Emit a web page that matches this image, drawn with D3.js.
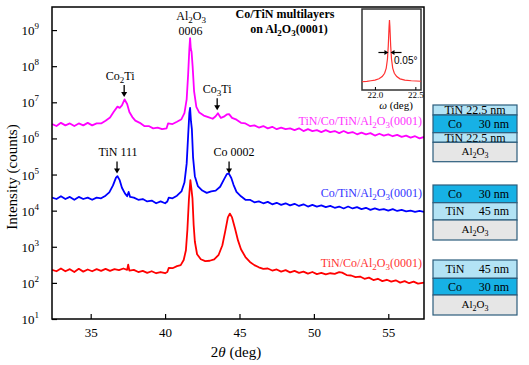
<!DOCTYPE html>
<html>
<head>
<meta charset="utf-8">
<script src="https://cdn.jsdelivr.net/npm/d3@7"></script>
<style>
  body { margin: 0; background: #fff; }
  svg { display: block; font-family: "Liberation Serif", "Times New Roman", serif; }
</style>
</head>
<body>
<svg id="chart" width="529" height="365"></svg>
<script>
// ---- data: [2theta (deg), intensity (counts)] ----
var tiCoTiData = [
  [32.4,2.5e6],[32.7,2.2e6],[33.0,2.7e6],[33.3,2.3e6],[33.6,2.6e6],[33.9,2.2e6],[34.2,2.6e6],[34.5,2.3e6],
  [34.8,2.7e6],[35.1,2.3e6],[35.4,2.6e6],[35.7,2.6e6],[36.0,3.1e6],[36.3,3.8e6],[36.55,5.5e6],[36.8,7.6e6],
  [36.95,7.0e6],[37.1,8.2e6],[37.28,1.2e7],[37.45,9.0e6],[37.6,5.4e6],[37.8,3.9e6],[38.0,3.1e6],[38.3,2.7e6],
  [38.6,2.2e6],[38.9,2.2e6],[39.2,1.9e6],[39.5,2.0e6],[39.8,1.8e6],[40.1,1.9e6],[40.2,2.6e6],[40.5,2.5e6],
  [40.8,2.9e6],[41.1,3.4e6],[41.3,5.0e6],[41.45,1.2e7],[41.55,6e7],[41.63,3e8],[41.68,6e8],[41.73,3e8],
  [41.78,2.5e8],[41.85,1e8],[41.95,2e7],[42.1,7.5e6],[42.3,5.2e6],[42.6,4.3e6],[42.9,3.9e6],[43.2,3.5e6],
  [43.4,4.1e6],[43.55,5.0e6],[43.75,3.7e6],[43.95,4.0e6],[44.15,4.6e6],[44.3,4.7e6],[44.5,3.7e6],[44.8,3.3e6],
  [45.1,2.7e6],[45.4,2.6e6],[45.7,2.2e6],[46.0,2.3e6],[46.3,2.0e6],[46.6,2.2e6],[46.9,1.9e6],[47.2,2.1e6],
  [47.5,1.8e6],[47.8,2.0e6],[48.1,1.8e6],[48.4,1.9e6],[48.7,1.7e6],[49.0,1.9e6],[49.3,1.6e6],[49.6,1.8e6],
  [49.9,1.6e6],[50.2,1.7e6],[50.5,1.5e6],[50.8,1.7e6],[51.1,1.5e6],[51.4,1.6e6],[51.7,1.4e6],[52.0,1.6e6],
  [52.3,1.4e6],[52.6,1.5e6],[52.9,1.3e6],[53.2,1.45e6],[53.5,1.3e6],[53.8,1.4e6],[54.1,1.2e6],[54.4,1.35e6],
  [54.7,1.2e6],[55.0,1.3e6],[55.3,1.15e6],[55.6,1.25e6],[55.9,1.1e6],[56.2,1.2e6],[56.5,1.05e6],[56.8,1.15e6],
  [57.1,1.0e6],[57.4,1.1e6]
];

var coTiData = [
  [32.4,2.3e4],[32.7,2.1e4],[33.0,2.5e4],[33.3,2.1e4],[33.6,2.4e4],[33.9,2.0e4],[34.2,2.4e4],[34.5,2.1e4],
  [34.8,2.3e4],[35.1,2.0e4],[35.4,2.3e4],[35.7,2.2e4],[36.0,2.6e4],[36.25,3.2e4],[36.5,5.0e4],[36.7,8.2e4],
  [36.8,9.0e4],[36.95,7.0e4],[37.1,4.3e4],[37.3,3.0e4],[37.45,2.5e4],[37.55,3.3e4],[37.65,2.4e4],[37.9,2.3e4],
  [38.2,2.0e4],[38.5,2.1e4],[38.8,1.8e4],[39.1,1.9e4],[39.4,1.6e4],[39.7,1.8e4],[40.0,1.6e4],[40.15,1.8e4],
  [40.25,2.3e4],[40.5,2.2e4],[40.8,2.6e4],[41.1,3.4e4],[41.3,6e4],[41.45,2e5],[41.55,1.2e6],[41.63,5e6],
  [41.68,7e6],[41.74,3e6],[41.8,1.8e6],[41.88,3e5],[42.0,9e4],[42.2,4.8e4],[42.5,3.6e4],[42.8,3.1e4],
  [43.1,3.4e4],[43.4,3.6e4],[43.7,4.6e4],[43.95,7.2e4],[44.15,1.03e5],[44.28,1.08e5],[44.45,8.0e4],[44.6,5.2e4],
  [44.8,3.3e4],[45.1,2.5e4],[45.4,2.0e4],[45.7,2.0e4],[46.0,1.7e4],[46.3,1.8e4],[46.6,1.6e4],[46.9,1.75e4],
  [47.2,1.5e4],[47.5,1.65e4],[47.8,1.45e4],[48.1,1.6e4],[48.4,1.4e4],[48.7,1.55e4],[49.0,1.35e4],[49.3,1.5e4],
  [49.6,1.3e4],[49.9,1.45e4],[50.2,1.3e4],[50.5,1.4e4],[50.8,1.25e4],[51.1,1.35e4],[51.4,1.2e4],[51.7,1.3e4],
  [52.0,1.15e4],[52.3,1.3e4],[52.6,1.15e4],[52.9,1.25e4],[53.2,1.1e4],[53.5,1.2e4],[53.8,1.05e4],[54.1,1.15e4],
  [54.4,1.05e4],[54.7,1.1e4],[55.0,1.0e4],[55.3,1.1e4],[55.6,9.8e3],[55.9,1.05e4],[56.2,9.5e3],[56.5,1.0e4],
  [56.8,9.2e3],[57.1,9.8e3],[57.4,9.3e3]
];

var tiCoData = [
  [32.4,230],[32.7,210],[33.0,250],[33.3,210],[33.6,240],[33.9,200],[34.2,245],[34.5,205],[34.8,235],
  [35.1,210],[35.4,240],[35.7,215],[36.0,245],[36.3,215],[36.6,240],[36.9,225],[37.2,250],[37.45,230],
  [37.52,320],[37.6,220],[37.9,230],[38.2,200],[38.5,215],[38.8,190],[39.1,210],[39.4,185],[39.7,200],
  [40.0,185],[40.15,200],[40.25,260],[40.5,255],[40.8,290],[41.05,310],[41.25,430],[41.4,800],[41.5,3e3],
  [41.6,2e4],[41.7,7e4],[41.77,4e4],[41.84,2.2e4],[41.92,4e3],[42.0,1.4e3],[42.15,620],[42.4,450],[42.7,400],
  [43.0,410],[43.3,450],[43.6,600],[43.85,1.1e3],[44.05,2.8e3],[44.22,6.5e3],[44.35,8.3e3],[44.5,6.5e3],
  [44.7,3.2e3],[44.9,1.5e3],[45.1,850],[45.4,520],[45.7,380],[46.0,310],[46.3,270],[46.6,245],[46.9,250],
  [47.2,220],[47.5,235],[47.8,205],[48.1,225],[48.4,195],[48.7,215],[49.0,190],[49.3,205],[49.6,180],
  [49.9,200],[50.2,175],[50.5,190],[50.8,172],[51.1,185],[51.4,178],[51.7,198],[51.9,192],[52.2,165],
  [52.5,160],[52.8,145],[53.1,150],[53.4,130],[53.7,140],[54.0,120],[54.3,130],[54.6,112],[54.9,122],
  [55.2,108],[55.5,118],[55.8,102],[56.1,112],[56.4,98],[56.7,108],[57.0,95],[57.4,102]
];

// inset: omega rocking curve [omega (deg), normalised intensity]
var rockingData = [
  [21.84,0.05],[21.9,0.055],[21.95,0.065],[22.0,0.075],[22.05,0.095],[22.09,0.13],[22.12,0.18],[22.14,0.26],
  [22.155,0.4],[22.165,0.6],[22.175,0.9],[22.18,1.0],[22.185,0.9],[22.195,0.6],[22.205,0.4],[22.22,0.26],
  [22.24,0.18],[22.27,0.13],[22.31,0.095],[22.37,0.075],[22.45,0.065],[22.57,0.058]
];

var xTicks = [35, 40, 45, 50, 55];
var yExponents = [1, 2, 3, 4, 5, 6, 7, 8, 9];
var insetTicks = [22.0, 22.5];

// peak labels: text, 2theta of arrow, intensity at arrow tip
var peakNames = ["Co_2Ti", "Co_3Ti", "TiN 111", "Co 0002"];
var peakPos = [37.25, 43.5, 36.77, 44.3];
var peakTip = [1.4e7, 6e6, 1.07e5, 1.07e5];

// layer stacks, top to bottom
var stackTiCoTi = [["TiN 22.5 nm", ""], ["Co", "30 nm"], ["TiN 22.5 nm", ""], ["Al_2O_3", ""]];
var stackCoTi = [["Co", "30 nm"], ["TiN", "45 nm"], ["Al_2O_3", ""]];
var stackTiCo = [["TiN", "45 nm"], ["Co", "30 nm"], ["Al_2O_3", ""]];

// ---- drawing ----
var svg = d3.select("#chart");

// writes "Al_2O_3" style strings with subscript digits
function rich(textSel, str, subSize) {
    var parts = str.split(/_(\d)/);
    var down = false;
    parts.forEach(function(p, i) {
        if (p === "") return;
        var sub = i % 2 === 1;
        var t = textSel.append("tspan").text(p);
        if (sub && !down) { t.attr("dy", 3).style("font-size", subSize + "px"); down = true; }
        else if (sub) { t.style("font-size", subSize + "px"); }
        else if (down) { t.attr("dy", -3); down = false; }
    });
}

var x = d3.scaleLinear().domain([32.4, 57.4]).range([52, 424]);
var y = d3.scaleLog().domain([10, Math.pow(10, 9 + 23 / 36)]).range([319, 7]);

svg.append("clipPath").attr("id", "plotclip")
    .append("rect").attr("x", 52).attr("y", 7).attr("width", 372).attr("height", 312);

var line = d3.line()
    .x(function(d) { return x(d[0]); })
    .y(function(d) { return y(d[1]); });

var series = [
    { data: tiCoData, color: "#ff0000" },
    { data: coTiData, color: "#0000ff" },
    { data: tiCoTiData, color: "#ff00ff" }
];

svg.append("g").attr("clip-path", "url(#plotclip)")
    .selectAll("path")
    .data(series)
    .join("path")
    .attr("d", function(d) { return line(d.data); })
    .attr("fill", "none")
    .attr("stroke", function(d) { return d.color; })
    .attr("stroke-width", 1.8)
    .attr("stroke-linejoin", "round");

// axes, ticks pointing inward
var xAxis = svg.append("g").attr("transform", "translate(0,319)")
    .call(d3.axisBottom(x).tickValues(xTicks).tickSize(-5).tickPadding(9).tickFormat(d3.format("d")));
xAxis.select(".domain").remove();
xAxis.selectAll("text").style("font-family", "Liberation Serif").style("font-size", "13px").attr("fill", "#000");
xAxis.selectAll("line").attr("stroke-width", 1.2);

var yAxis = svg.append("g").attr("transform", "translate(52,0)")
    .call(d3.axisLeft(y).tickValues(yExponents.map(function(e) { return Math.pow(10, e); }))
        .tickSize(-5).tickFormat(""));
yAxis.select(".domain").remove();
yAxis.selectAll("line").attr("stroke-width", 1.2);

var yLab = svg.append("g").selectAll("text")
    .data(yExponents)
    .join("text")
    .attr("x", 39)
    .attr("y", function(e) { return y(Math.pow(10, e)) + 5; })
    .attr("text-anchor", "end")
    .style("font-size", "13px");
yLab.append("tspan").text("10");
yLab.append("tspan").attr("dy", -6).style("font-size", "9px").text(function(e) { return e; });

// frame
svg.append("rect").attr("x", 52).attr("y", 7).attr("width", 372).attr("height", 312)
    .attr("fill", "none").attr("stroke", "#000").attr("stroke-width", 1.5);

// axis titles
var xt = svg.append("text").attr("x", 236).attr("y", 357).attr("text-anchor", "middle").style("font-size", "15px");
xt.append("tspan").text("2");
xt.append("tspan").style("font-style", "italic").text("\u03b8");
xt.append("tspan").text(" (deg)");

svg.append("text")
    .attr("transform", "translate(17,177) rotate(-90)")
    .attr("text-anchor", "middle")
    .style("font-size", "15px")
    .text("Intensity (counts)");

// title
svg.append("text").attr("x", 285).attr("y", 18).attr("text-anchor", "middle")
    .style("font-size", "12px").style("font-weight", "bold").text("Co/TiN multilayers");
rich(svg.append("text").attr("x", 289).attr("y", 33).attr("text-anchor", "middle")
    .style("font-size", "12px").style("font-weight", "bold"), "on Al_2O_3(0001)", 9);

// substrate peak label
rich(svg.append("text").attr("x", x(41.75)).attr("y", 20).attr("text-anchor", "middle")
    .style("font-size", "12px"), "Al_2O_3", 9);
svg.append("text").attr("x", x(41.7)).attr("y", 35).attr("text-anchor", "middle")
    .style("font-size", "12px").text("0006");

// peak arrows and labels
var labelShift = [-4, 0, 1, 5];
peakNames.forEach(function(name, i) {
    var px = x(peakPos[i]);
    var tip = y(peakTip[i]);
    var g = svg.append("g");
    g.append("line").attr("x1", px).attr("x2", px).attr("y1", tip - 12).attr("y2", tip - 4)
        .attr("stroke", "#000").attr("stroke-width", 1.3);
    g.append("path").attr("d", "M" + (px - 3) + "," + (tip - 5) + "L" + (px + 3) + "," + (tip - 5) + "L" + px + "," + tip + "Z")
        .attr("fill", "#000");
    rich(g.append("text").attr("x", px + labelShift[i]).attr("y", tip - 17).attr("text-anchor", "middle")
        .style("font-size", "12px"), name, 9);
});

// series labels
var seriesLabels = [
    { text: "TiN/Co/TiN/Al_2O_3(0001)", color: "#ff33ff", yy: 125 },
    { text: "Co/TiN/Al_2O_3(0001)", color: "#3333ff", yy: 197 },
    { text: "TiN/Co/Al_2O_3(0001)", color: "#ff3333", yy: 267 }
];
seriesLabels.forEach(function(s) {
    rich(svg.append("text").attr("x", 422).attr("y", s.yy).attr("text-anchor", "end")
        .attr("fill", s.color).style("font-size", "12px"), s.text, 9);
});

// ---- inset ----
var ix = d3.scaleLinear().domain([21.84, 22.57]).range([362, 421]);
var iy = d3.scaleLinear().domain([0, 1]).range([85, 20]);
var inset = svg.append("g");
inset.append("rect").attr("x", 362).attr("y", 9).attr("width", 59).attr("height", 81)
    .attr("fill", "#fff").attr("stroke", "#333").attr("stroke-width", 1.5);
inset.append("path")
    .attr("d", d3.line().x(function(d) { return ix(d[0]); }).y(function(d) { return iy(d[1]); })(rockingData))
    .attr("fill", "none").attr("stroke", "#ff3030").attr("stroke-width", 1.2);
var ixAxis = inset.append("g").attr("transform", "translate(0,90)")
    .call(d3.axisBottom(ix).tickValues(insetTicks).tickSize(-3).tickPadding(1.6).tickFormat(d3.format(".1f")));
ixAxis.select(".domain").remove();
ixAxis.selectAll("text").style("font-family", "Liberation Serif").style("font-size", "9px").attr("fill", "#000");
var it = inset.append("text").attr("x", 396).attr("y", 109).attr("text-anchor", "middle").style("font-size", "11px");
it.append("tspan").style("font-style", "italic").text("\u03c9");
it.append("tspan").text(" (deg)");

// FWHM arrows
var half = iy(0.5);
var fl = ix(22.167), fr = ix(22.193);
inset.append("line").attr("x1", fl - 10).attr("x2", fl - 3).attr("y1", half).attr("y2", half).attr("stroke", "#000").attr("stroke-width", 1.2);
inset.append("path").attr("d", "M" + fl + "," + half + "L" + (fl - 4) + "," + (half - 2.5) + "L" + (fl - 4) + "," + (half + 2.5) + "Z").attr("fill", "#000");
inset.append("line").attr("x1", fr + 3).attr("x2", fr + 11).attr("y1", half).attr("y2", half).attr("stroke", "#000").attr("stroke-width", 1.2);
inset.append("path").attr("d", "M" + fr + "," + half + "L" + (fr + 4) + "," + (half - 2.5) + "L" + (fr + 4) + "," + (half + 2.5) + "Z").attr("fill", "#000");
inset.append("text").attr("x", 394).attr("y", 64).style("font-family", "Liberation Sans")
    .style("font-size", "10px").text("0.05\u00b0");

// ---- layer schematics ----
var fills = { TiN: "#b3e3f5", Co: "#17b1e5", Al: "#e6e6e6" };
function drawStack(layers, edges) {
    var g = svg.append("g");
    layers.forEach(function(l, i) {
        var mat = l[0].split(/[ _]/)[0];
        var y0 = edges[i], y1 = edges[i + 1];
        g.append("rect").attr("x", 433).attr("y", y0).attr("width", 84).attr("height", y1 - y0)
            .attr("fill", fills[mat]).attr("stroke", "#2c5d7c").attr("stroke-width", 1.2);
        var base = (y0 + y1) / 2 + 4;
        if (l[1]) {
            g.append("text").attr("x", 455).attr("y", base).attr("text-anchor", "middle").style("font-size", "12px").text(l[0]);
            g.append("text").attr("x", 494).attr("y", base).attr("text-anchor", "middle").style("font-size", "12px").text(l[1]);
        } else {
            rich(g.append("text").attr("x", 475).attr("y", base - (mat === "Al" ? 1 : 0)).attr("text-anchor", "middle")
                .style("font-size", mat === "Al" ? "11px" : "12px"), l[0], 8);
        }
    });
}
drawStack(stackTiCoTi, [105, 115, 132.7, 142.3, 161.7]);
drawStack(stackCoTi, [185, 202.7, 220, 240]);
drawStack(stackTiCo, [260, 278.3, 295, 315]);
</script>
</body>
</html>
